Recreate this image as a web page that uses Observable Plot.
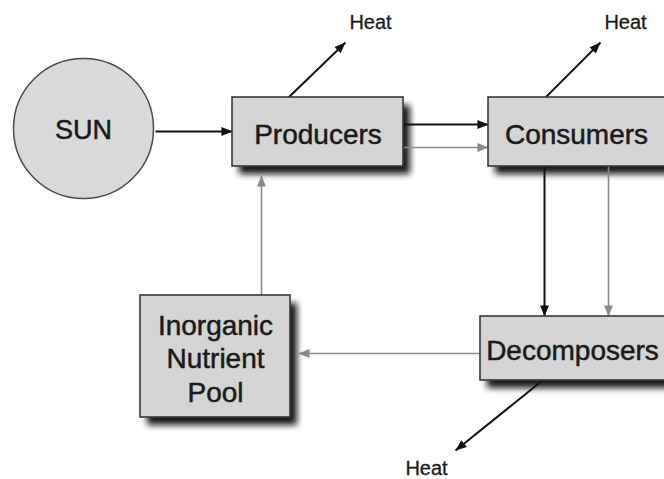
<!DOCTYPE html>
<html>
<head>
<meta charset="utf-8">
<script src="https://cdn.jsdelivr.net/npm/d3@7"></script>
<script src="https://cdn.jsdelivr.net/npm/@observablehq/plot@0.6"></script>
<style>
  html, body { margin: 0; padding: 0; background: #fff; overflow: hidden; }
  svg { display: block; }
</style>
</head>
<body>
<div id="chart"></div>
<script>
// Diagram geometry (in diagram units, mapped through Plot's x/y scales)
const boxNames  = ["Producers", "Consumers", "Decomposers", "Inorganic\nNutrient\nPool"];
const boxLeft   = [232, 488, 480, 140];
const boxRight  = [403, 666, 666, 290];
const boxTop    = [97, 97, 316, 295];
const boxBottom = [166, 166, 380, 417];

const sunLabel = ["SUN"];
const sunX = [83];
const sunY = [128];

const flowX1   = [155, 403, 403, 544, 608, 480, 261, 288, 545, 542];
const flowY1   = [131, 124, 147, 166, 166, 353, 295, 97, 97, 380];
const flowX2   = [232, 488, 488, 544, 608, 298, 261, 345, 600, 455];
const flowY2   = [131, 124, 147, 316, 316, 353, 175, 42, 42, 450];
const flowKind = ["energy", "energy", "nutrient", "energy", "nutrient", "nutrient", "nutrient", "energy", "energy", "energy"];

const heatLabels = ["Heat", "Heat", "Heat"];
const heatX = [370, 625, 426];
const heatY = [22, 22, 468];

const boxes = boxNames.map((name, i) => ({
  name, x1: boxLeft[i], x2: boxRight[i], y1: boxTop[i], y2: boxBottom[i],
  cx: (boxLeft[i] + Math.min(boxRight[i], 664)) / 2, cy: (boxTop[i] + boxBottom[i]) / 2
}));
const sun = sunLabel.map((label, i) => ({label, x: sunX[i], y: sunY[i]}));
const flows = flowKind.map((kind, i) => ({kind, x1: flowX1[i], y1: flowY1[i], x2: flowX2[i], y2: flowY2[i]}));
const heats = heatLabels.map((label, i) => ({label, x: heatX[i], y: heatY[i]}));

const svg = Plot.plot({
  width: 664,
  height: 479,
  margin: 0,
  x: {domain: [0, 664], range: [0, 664], axis: null},
  y: {domain: [0, 479], range: [0, 479], axis: null},
  color: {domain: ["energy", "nutrient"], range: ["#111111", "#8a8a8a"]},
  style: {fontFamily: "'Liberation Sans', Arial, Helvetica, sans-serif", background: "#ffffff", overflow: "hidden"},
  marks: [
    // box shadows
    Plot.rect(boxes, {x1: "x1", x2: "x2", y1: "y1", y2: "y2", dx: 7, dy: 8, fill: "#111111", fillOpacity: 0.95, ariaLabel: () => "shadow"}),
    // links
    Plot.link(flows.filter(d => d.kind === "energy"), {x1: "x1", y1: "y1", x2: "x2", y2: "y2", stroke: "kind", strokeWidth: 2, markerEnd: "arrow"}),
    Plot.link(flows.filter(d => d.kind === "nutrient"), {x1: "x1", y1: "y1", x2: "x2", y2: "y2", stroke: "kind", strokeWidth: 1.6, markerEnd: "arrow"}),
    // boxes
    Plot.rect(boxes, {x1: "x1", x2: "x2", y1: "y1", y2: "y2", fill: "#d4d4d4", stroke: "#383838", strokeWidth: 1.6}),
    // sun
    Plot.dot(sun, {x: "x", y: "y", r: 70, fill: "#d9d9d9", stroke: "#4a4a4a", strokeWidth: 1.5}),
    Plot.text(sun, {x: "x", y: "y", text: "label", fontSize: 27, fill: "#1a1a1a", stroke: "#1a1a1a", strokeWidth: 0.5, dy: 2}),
    // box labels
    Plot.text(boxes, {x: "cx", y: "cy", text: "name", fontSize: 28, lineHeight: 1.2, fill: "#1a1a1a", stroke: "#1a1a1a", strokeWidth: 0.5, lineAnchor: "middle", dy: 1}),
    // heat labels
    Plot.text(heats, {x: "x", y: "y", text: "label", fontSize: 20, fill: "#1a1a1a", stroke: "#1a1a1a", strokeWidth: 0.3})
  ]
});

// blurred drop shadow
const ns = "http://www.w3.org/2000/svg";
const defs = document.createElementNS(ns, "defs");
const filter = document.createElementNS(ns, "filter");
filter.setAttribute("id", "boxshadow");
filter.setAttribute("x", "-20%"); filter.setAttribute("y", "-30%");
filter.setAttribute("width", "140%"); filter.setAttribute("height", "160%");
const blur = document.createElementNS(ns, "feGaussianBlur");
blur.setAttribute("stdDeviation", "3");
filter.appendChild(blur);
defs.appendChild(filter);
svg.insertBefore(defs, svg.firstChild);
svg.querySelectorAll("[aria-label='shadow']").forEach(el => el.setAttribute("filter", "url(#boxshadow)"));

// filled triangular arrowheads
svg.querySelectorAll("marker").forEach(m => {
  const c = m.getAttribute("stroke");
  m.setAttribute("viewBox", "-10 -5 10 10");
  m.setAttribute("markerUnits", "userSpaceOnUse");
  m.setAttribute("markerWidth", 13);
  m.setAttribute("markerHeight", 13);
  m.setAttribute("fill", c);
  m.setAttribute("stroke", "none");
  const p = m.querySelector("path");
  if (p) p.setAttribute("d", "M-8.5,-3.4L0,0L-8.5,3.4Z");
});

document.getElementById("chart").appendChild(svg);
</script>
</body>
</html>
